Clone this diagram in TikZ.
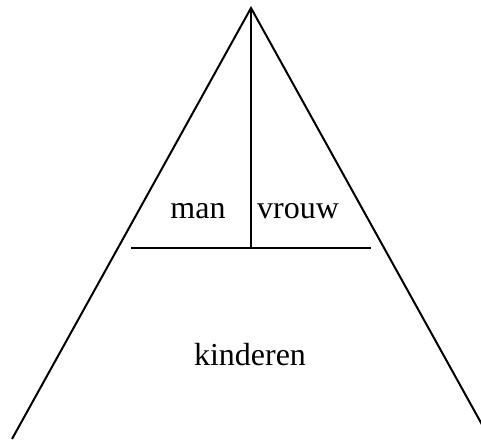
\documentclass[tikz,border=0pt]{standalone}
\usepackage{fontspec}
\setmainfont{Liberation Serif}
\usepackage{tikz}
\usetikzlibrary{positioning}

\begin{document}
\begin{tikzpicture}[
  x=1pt,y=1pt,
  line/.style={line width=2pt},
  label/.style={font=\fontsize{32}{38}\selectfont,inner sep=0pt,anchor=base}
]
\clip (0,0) rectangle (481,439);
\coordinate (apex) at (251,431);
\coordinate (baseL) at (12,0);
\coordinate (baseR) at (490,0);
\coordinate (mid) at (251,191);
\coordinate (barL) at (131,191);
\coordinate (barR) at (371,191);

\node[label] (man) at (198,220) {man};
\node[label] (vrouw) at (298,220) {vrouw};
\node[label] (kinderen) at (250,74) {kinderen};

\draw[line] (baseL) -- (apex) -- (baseR);
\draw[line] (apex) -- (mid);
\draw[line] (barL) -- (barR);
\end{tikzpicture}
\end{document}
